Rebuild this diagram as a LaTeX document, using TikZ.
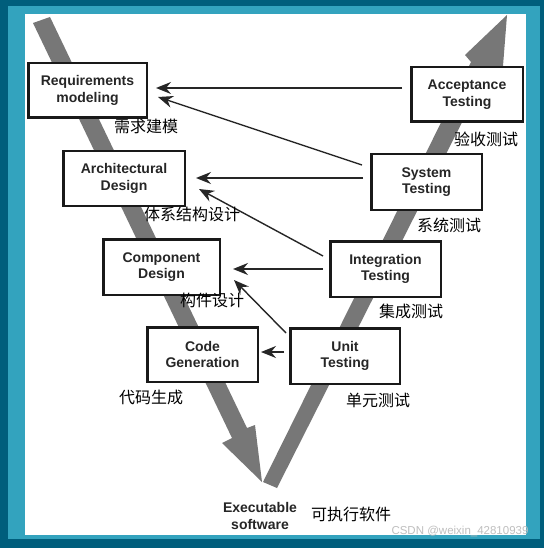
\documentclass[tikz,border=0pt]{standalone}
\usepackage{fontspec}
\setmainfont{Liberation Sans}
\newfontfamily\cjk{Noto Sans CJK SC}
\usetikzlibrary{arrows.meta}
\definecolor{frameDark}{RGB}{0,94,124}
\definecolor{frameLight}{RGB}{51,163,190}
\definecolor{vgray}{RGB}{119,119,119}
\tikzset{
  stagebox/.style={draw=black!90, line width=2.5pt, fill=white, inner sep=0pt,
    align=center, font=\fontsize{14}{16.5}\selectfont\bfseries, text=black!85},
  cnlabel/.style={font=\cjk\fontsize{16}{18}\selectfont, text=black, inner sep=0pt},
  feedback/.style={draw=black!85, line width=1.4pt, -{Stealth[length=15pt,width=12pt,inset=5pt]}},
}
\begin{document}
\begin{tikzpicture}[x=1pt,y=-1pt]
\useasboundingbox (0,0) rectangle (544,548);
% frame
\fill[frameDark] (0,0) rectangle (544,548);
\fill[frameLight] (8,6) rectangle (540,539);
\fill[white] (25,14) rectangle (526,535);
% V arrows
\fill[vgray] (33,23) -- (50,17) -- (247,428) -- (255,425) -- (262,482) -- (222,443) -- (232,438) -- cycle;
\fill[vgray] (263,482) -- (471,62) -- (465,55) -- (507,15) -- (503,66) -- (487,73) -- (277,488) -- cycle;
% boxes
\node[stagebox, minimum width=118.5pt, minimum height=54.5pt] (req) at (87.5,90.5) {Requirements\\modeling};
\node[stagebox, minimum width=121.5pt, minimum height=54.5pt] (arch) at (124,178.5) {Architectural\\Design};
\node[stagebox, minimum width=116.5pt, minimum height=55.5pt] (comp) at (161.5,267) {Component\\Design};
\node[stagebox, minimum width=110.5pt, minimum height=54.5pt] (code) at (202.5,354.5) {Code\\Generation};
\node[stagebox, minimum width=111.5pt, minimum height=54.5pt] (acc) at (467,94.5) {Acceptance\\Testing};
\node[stagebox, minimum width=110.5pt, minimum height=55.5pt] (sys) at (426.5,182) {System\\Testing};
\node[stagebox, minimum width=110.5pt, minimum height=55.5pt] (integ) at (385.5,269) {Integration\\Testing};
\node[stagebox, minimum width=109.5pt, minimum height=55.5pt] (unit) at (345,356) {Unit\\Testing};
% feedback arrows
\draw[feedback] ([shift={(-8,-6.5)}]acc.west) -- ([shift={(8,-2.5)}]req.east);
\draw[feedback] ([shift={(-8,-17)}]sys.west) -- ([shift={(10,6.5)}]req.east);
\draw[feedback] ([shift={(-7,-4)}]sys.west) -- ([shift={(10,-0.5)}]arch.east);
\draw[feedback] ([shift={(-6,-13)}]integ.west) -- ([shift={(13,10.5)}]arch.east);
\draw[feedback] ([shift={(-6,0)}]integ.west) -- ([shift={(12,2)}]comp.east);
\draw[feedback] ([shift={(-3,-23)}]unit.west) -- ([shift={(13,13)}]comp.east);
\draw[feedback] ([shift={(-5,-4)}]unit.west) -- ([shift={(2,-2.5)}]code.east);
% labels
\node[cnlabel] (reqcn) at (146,126) {需求建模};
\node[cnlabel] (archcn) at (192,214) {体系结构设计};
\node[cnlabel] (compcn) at (212,300) {构件设计};
\node[cnlabel] (codecn) at (151,397) {代码生成};
\node[cnlabel] (acccn) at (486,139) {验收测试};
\node[cnlabel] (syscn) at (449,225) {系统测试};
\node[cnlabel] (integcn) at (411,311) {集成测试};
\node[cnlabel] (unitcn) at (378,400) {单元测试};
\node[align=center, inner sep=0pt, font=\fontsize{14}{16.5}\selectfont\bfseries, text=black!85] (exe) at (260,516) {Executable\\software};
\node[cnlabel] (execn) at (351,514) {可执行软件};
\node[inner sep=0pt, font=\fontsize{11.5}{13}\selectfont, text=black!25] (wm) at (460,531) {CSDN @weixin\_42810939};
\end{tikzpicture}
\end{document}
